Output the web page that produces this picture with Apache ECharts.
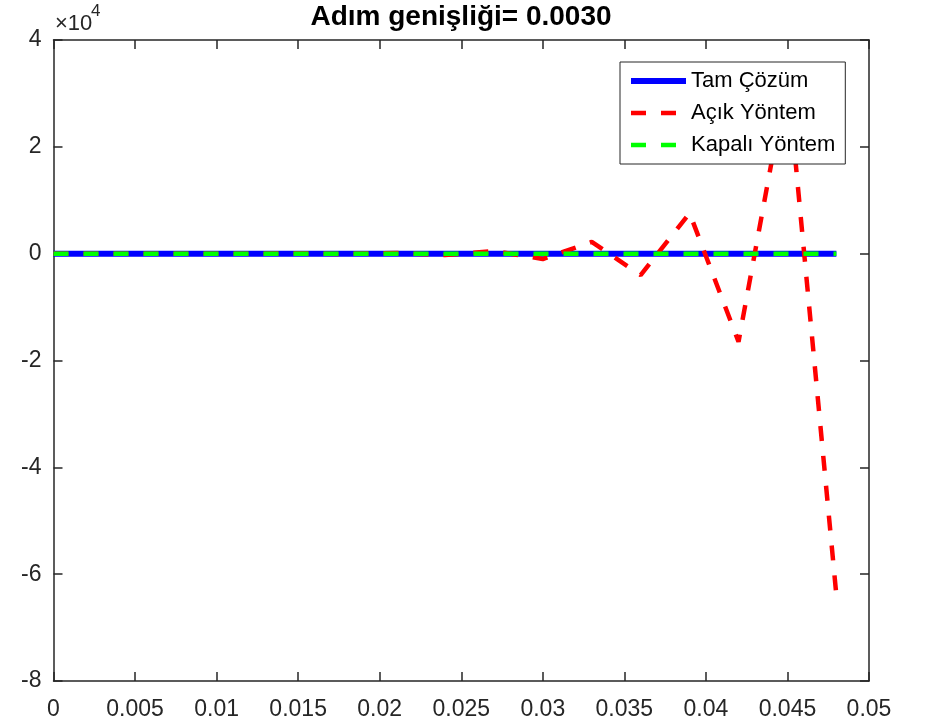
<!DOCTYPE html>
<html>
<head>
<meta charset="utf-8">
<script src="https://cdn.jsdelivr.net/npm/echarts@6/dist/echarts.min.js"></script>
<style>
  html, body { margin: 0; padding: 0; background: #fff; }
  #main { width: 932px; height: 728px; }
</style>
</head>
<body>
<div id="main"></div>
<script>
// zaman adımları (h = 0.003)
var adimT = [0, 0.003, 0.006, 0.009, 0.012, 0.015, 0.018, 0.021, 0.024,
             0.027, 0.030, 0.033, 0.036, 0.039, 0.042, 0.045, 0.048];
// tam çözüm
var tamCozum = [0, 0, 0, 0, 0, 0, 0, 0, 0, 0, 0, 0, 0, 0, 0, 0, 0];
// açık yöntem (kararsız, salınımlı)
var acikYontem = [0, 2, -4, 8, -15, 30, -60, 125, -250, 500, -1000,
                  2200, -4000, 7600, -16500, 33300, -64000];
// kapalı yöntem
var kapaliYontem = [0, 0, 0, 0, 0, 0, 0, 0, 0, 0, 0, 0, 0, 0, 0, 0, 0];

var seriesNames = ['Tam Çözüm', 'Açık Yöntem', 'Kapalı Yöntem'];

function pairs(ys) {
  return adimT.map(function (t, i) { return [t, ys[i]]; });
}

var axisColor = '#262626';
var fontFam = 'Liberation Sans, Arial, Helvetica, sans-serif';

var chart = echarts.init(document.getElementById('main'));

var baseX = {
  type: 'value', min: 0, max: 0.05, interval: 0.005,
  axisLine: { onZero: false, lineStyle: { color: axisColor, width: 1.5 } },
  axisTick: { inside: true, length: 9, lineStyle: { color: axisColor, width: 1.5 } },
  splitLine: { show: false }
};
var baseY = {
  type: 'value', min: -80000, max: 40000, interval: 20000,
  axisLine: { onZero: false, lineStyle: { color: axisColor, width: 1.5 } },
  axisTick: { inside: true, length: 9, lineStyle: { color: axisColor, width: 1.5 } },
  splitLine: { show: false }
};

var option = {
  animation: false,
  backgroundColor: '#fff',
  textStyle: { fontFamily: fontFam },
  grid: { left: 53.5, right: 63, top: 40, bottom: 47 },
  graphic: [
    { type: 'text', x: 461, y: 3, style: { text: 'Adım genişliği= 0.0030', fontSize: 28, fontWeight: 'bold',
      fontFamily: fontFam, fill: '#000', textAlign: 'center' } },
    { type: 'text', x: 55, y: 13, style: { text: '×10', fontSize: 22, fontFamily: fontFam, fill: axisColor } },
    { type: 'text', x: 91, y: 3, style: { text: '4', fontSize: 17, fontFamily: fontFam, fill: axisColor } }
  ],
  legend: {
    data: seriesNames,
    orient: 'vertical', left: 620, top: 62,
    backgroundColor: '#fff', borderColor: axisColor, borderWidth: 1, borderRadius: 0,
    padding: [8, 10, 8, 8],
    itemWidth: 55, itemHeight: 14, itemGap: 10,
    itemStyle: { opacity: 0 },
    lineStyle: { width: 'inherit', type: 'inherit' },
    textStyle: { fontSize: 22, color: '#000', fontFamily: fontFam }
  },
  xAxis: [
    Object.assign({}, baseX, { position: 'bottom',
      axisLabel: { color: axisColor, fontSize: 23, margin: 17, fontFamily: fontFam,
        formatter: function (v) { return String(+v.toFixed(3)); } } }),
    Object.assign({}, baseX, { position: 'top', axisLabel: { show: false } })
  ],
  yAxis: [
    Object.assign({}, baseY, { position: 'left',
      axisLabel: { color: axisColor, fontSize: 23, margin: 12, fontFamily: fontFam,
        formatter: function (v) { return String(v / 10000); } } }),
    Object.assign({}, baseY, { position: 'right', axisLabel: { show: false } })
  ],
  series: [
    { name: seriesNames[0], type: 'line', data: pairs(tamCozum), symbol: 'none',
      lineStyle: { color: '#0000ff', width: 6 }, itemStyle: { color: '#0000ff' } },
    { name: seriesNames[1], type: 'line', data: pairs(acikYontem), symbol: 'none',
      lineStyle: { color: '#ff0000', width: 4.5, type: [15, 15], cap: 'butt' }, itemStyle: { color: '#ff0000' } },
    { name: seriesNames[2], type: 'line', data: pairs(kapaliYontem), symbol: 'none',
      lineStyle: { color: '#00ff00', width: 4.5, type: [15, 15], cap: 'butt' }, itemStyle: { color: '#00ff00' } }
  ]
};

chart.setOption(option);
</script>
</body>
</html>
